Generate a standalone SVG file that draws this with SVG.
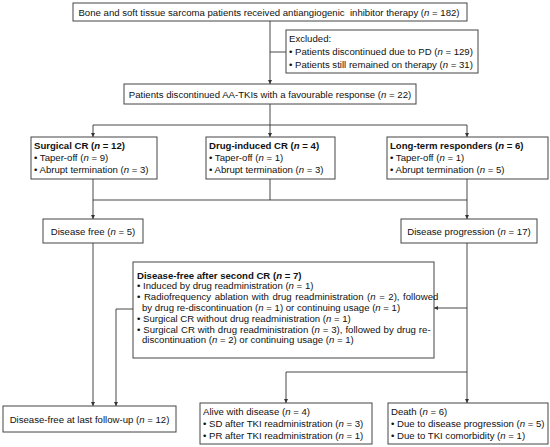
<svg xmlns="http://www.w3.org/2000/svg" width="550" height="447" viewBox="0 0 550 447">
<style>
  .box{fill:#fff;stroke:#444;stroke-width:1}
  .ln{fill:none;stroke:#333;stroke-width:0.9}
  text{font-family:"Liberation Sans",Arial,sans-serif;font-size:9.6px;fill:#111}
  .c{text-anchor:middle}
  .b{font-weight:bold}
  .i{font-style:italic}
</style>
<defs>
  <marker id="ar" viewBox="0 0 6 6" refX="6" refY="3" markerWidth="4" markerHeight="4" orient="auto" markerUnits="userSpaceOnUse">
    <path d="M0,0 L6,3 L0,6 z" fill="#333"/>
  </marker>
</defs>
<rect width="550" height="447" fill="#fff"/>
<g id="connectors">
  <line class="ln" x1="270" y1="21" x2="270" y2="84" marker-end="url(#ar)"/>
  <line class="ln" x1="270" y1="52" x2="286" y2="52"/>
  <line class="ln" x1="270" y1="104" x2="270" y2="125"/>
  <line class="ln" x1="93" y1="125" x2="467" y2="125"/>
  <line class="ln" x1="93" y1="125" x2="93" y2="137" marker-end="url(#ar)"/>
  <line class="ln" x1="270" y1="125" x2="270" y2="137" marker-end="url(#ar)"/>
  <line class="ln" x1="467" y1="125" x2="467" y2="137" marker-end="url(#ar)"/>
  <line class="ln" x1="93" y1="179" x2="93" y2="200"/>
  <line class="ln" x1="270" y1="179" x2="270" y2="200"/>
  <line class="ln" x1="467" y1="179" x2="467" y2="200"/>
  <line class="ln" x1="93" y1="200" x2="467" y2="200"/>
  <line class="ln" x1="93" y1="200" x2="93" y2="219" marker-end="url(#ar)"/>
  <line class="ln" x1="467" y1="200" x2="467" y2="219" marker-end="url(#ar)"/>
  <line class="ln" x1="93" y1="243" x2="93" y2="406" marker-end="url(#ar)"/>
  <polyline class="ln" points="133,309 116,309 116,406" marker-end="url(#ar)"/>
  <line class="ln" x1="467" y1="243" x2="467" y2="403" marker-end="url(#ar)"/>
  <line class="ln" x1="467" y1="308" x2="434" y2="308" marker-end="url(#ar)"/>
  <polyline class="ln" points="467,372 286,372 286,403" marker-end="url(#ar)"/>
</g>
<g id="start">
  <rect class="box" x="73" y="3" width="394" height="18"/>
  <text class="c" x="269" y="15.5" font-size="9.5" xml:space="preserve">Bone and soft tissue sarcoma patients received antiangiogenic  inhibitor therapy (<tspan class="i">n</tspan> = 182)</text>
</g>
<g id="excluded">
  <rect class="box" x="286" y="30" width="192" height="43"/>
  <text x="289" y="42">Excluded:</text>
  <text x="289" y="55">• Patients discontinued due to PD (<tspan class="i">n</tspan> = 129)</text>
  <text x="289" y="67.5">• Patients still remained on therapy (<tspan class="i">n</tspan> = 31)</text>
</g>
<g id="discontinued">
  <rect class="box" x="124" y="84" width="292" height="20"/>
  <text class="c" x="270" y="97.5">Patients discontinued AA-TKIs with a favourable response (<tspan class="i">n</tspan> = 22)</text>
</g>
<g id="surgical">
  <rect class="box" x="31" y="137" width="126" height="42"/>
  <text class="b" x="34" y="149">Surgical CR (<tspan class="i">n</tspan> = 12)</text>
  <text x="34" y="161">• Taper-off (<tspan class="i">n</tspan> = 9)</text>
  <text x="34" y="173">• Abrupt termination (<tspan class="i">n</tspan> = 3)</text>
</g>
<g id="druginduced">
  <rect class="box" x="206" y="137" width="129" height="42"/>
  <text class="b" x="209" y="149">Drug-induced CR (<tspan class="i">n</tspan> = 4)</text>
  <text x="209" y="161">• Taper-off (<tspan class="i">n</tspan> = 1)</text>
  <text x="209" y="173">• Abrupt termination (<tspan class="i">n</tspan> = 3)</text>
</g>
<g id="longterm">
  <rect class="box" x="387" y="137" width="161" height="42"/>
  <text class="b" x="390" y="149">Long-term responders (<tspan class="i">n</tspan> = 6)</text>
  <text x="390" y="161">• Taper-off (<tspan class="i">n</tspan> = 1)</text>
  <text x="390" y="173">• Abrupt termination (<tspan class="i">n</tspan> = 5)</text>
</g>
<g id="diseasefree">
  <rect class="box" x="43" y="219" width="100" height="24"/>
  <text class="c" x="93" y="234.5">Disease free (<tspan class="i">n</tspan> = 5)</text>
</g>
<g id="progression">
  <rect class="box" x="401" y="219" width="136" height="24"/>
  <text class="c" x="469" y="234.5">Disease progression (<tspan class="i">n</tspan> = 17)</text>
</g>
<g id="secondcr">
  <rect class="box" x="133" y="262" width="301" height="96"/>
  <text class="b" x="137" y="278.5">Disease-free after second CR (<tspan class="i">n</tspan> = 7)</text>
  <text x="137" y="289.3">• Induced by drug readministration (<tspan class="i">n</tspan> = 1)</text>
  <text x="137" y="300.1" word-spacing="0.9">• Radiofrequency ablation with drug readministration (<tspan class="i">n</tspan> = 2), followed</text>
  <text x="142" y="310.9">by drug re-discontinuation (<tspan class="i">n</tspan> = 1) or continuing usage (<tspan class="i">n</tspan> = 1)</text>
  <text x="137" y="321.7">• Surgical CR without drug readministration (<tspan class="i">n</tspan> = 1)</text>
  <text x="137" y="332.5" word-spacing="0.3">• Surgical CR with drug readministration (<tspan class="i">n</tspan> = 3), followed by drug re-</text>
  <text x="142" y="343.3">discontinuation (<tspan class="i">n</tspan> = 2) or continuing usage (<tspan class="i">n</tspan> = 1)</text>
</g>
<g id="lastfollowup">
  <rect class="box" x="3" y="406" width="173" height="26"/>
  <text class="c" x="89.5" y="422.5">Disease-free at last follow-up (<tspan class="i">n</tspan> = 12)</text>
</g>
<g id="alive">
  <rect class="box" x="200" y="403" width="172" height="41"/>
  <text x="203" y="415">Alive with disease (<tspan class="i">n</tspan> = 4)</text>
  <text x="203" y="427">• SD after TKI readministration (<tspan class="i">n</tspan> = 3)</text>
  <text x="203" y="439">• PR after TKI readministration (<tspan class="i">n</tspan> = 1)</text>
</g>
<g id="death">
  <rect class="box" x="388" y="403" width="160" height="41"/>
  <text x="391" y="415">Death (<tspan class="i">n</tspan> = 6)</text>
  <text x="391" y="427">• Due to disease progression (<tspan class="i">n</tspan> = 5)</text>
  <text x="391" y="439">• Due to TKI comorbidity (<tspan class="i">n</tspan> = 1)</text>
</g>
</svg>
